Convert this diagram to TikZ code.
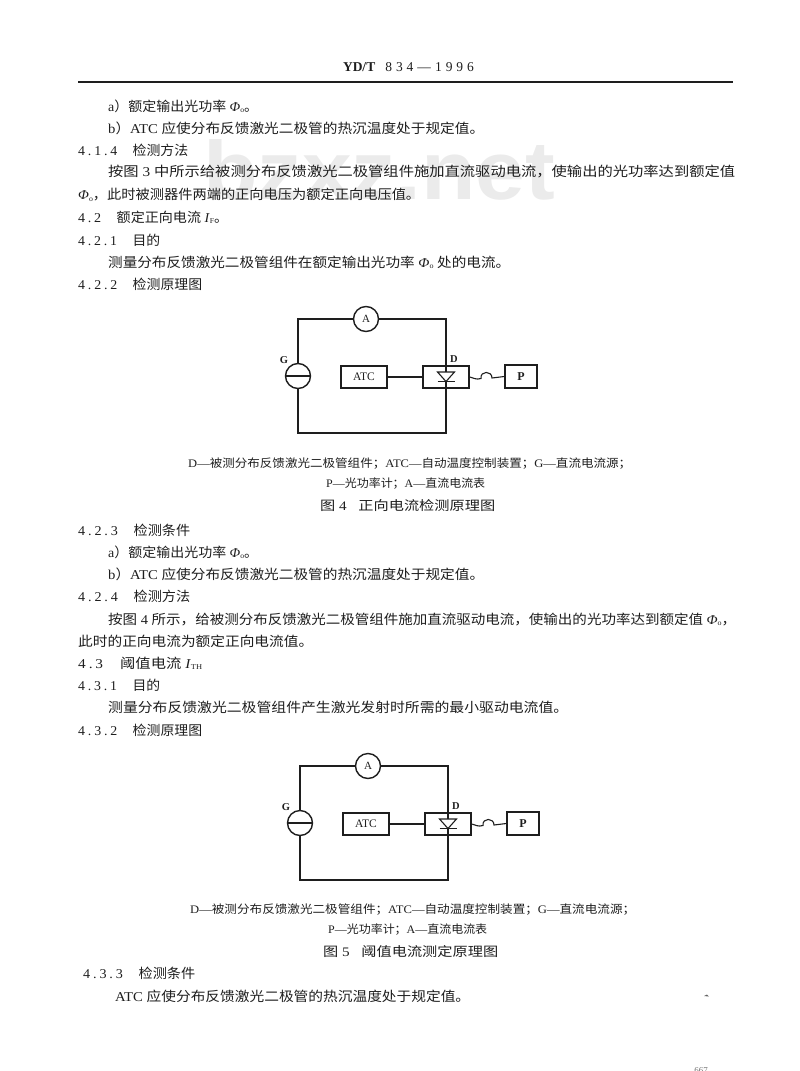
\documentclass[tikz,border=0pt]{standalone}
\usepackage{fontspec}
\usepackage{graphicx}
\setmainfont{Liberation Serif}
\newfontfamily\zhfont{Noto Sans CJK SC}
\newfontfamily\wmfont{Liberation Sans}
\newcommand{\zh}[1]{{\zhfont #1}}
\definecolor{ink}{HTML}{1E1E1E}
\newcommand{\Ph}{\textit{Φ}\raisebox{-0.2ex}{\scalebox{0.55}{o}}}
\newcommand{\snt}[3]{\makebox[38pt][s]{#1\hfill.\hfill#2\hfill.\hfill#3}\hspace{15pt}}
\newcommand{\snd}[2]{\makebox[22pt][s]{#1\hfill.\hfill#2}\hspace{15pt}}
\tikzset{
  txt/.style={anchor=west,inner sep=0pt,text=ink,font=\fontsize{13.5}{15}\selectfont},
  captxt/.style={anchor=west,inner sep=0pt,text=ink,font=\fontsize{11.5}{13}\selectfont},
  wire/.style={draw=ink,line width=1.4pt},
  thinw/.style={draw=ink,line width=1.1pt},
  box/.style={draw=ink,line width=1.4pt,rectangle,inner sep=0pt,text=ink,font=\fontsize{11.5}{13}\selectfont},
  meter/.style={draw=ink,line width=1.4pt,circle,minimum size=25pt,inner sep=0pt,text=ink,font=\fontsize{11}{13}\selectfont},
  lab/.style={inner sep=0pt,text=ink,font=\bfseries\fontsize{10.5}{12}\selectfont}
}
\newcommand{\tl}[5]{\node[txt] (#1) at (#2,#3) {\resizebox{#4pt}{\height}{#5}};}
\newcommand{\cl}[5]{\node[captxt] (#1) at (#2,#3) {\resizebox{#4pt}{\height}{#5}};}
% circuit, with prefix #1, shift #2,#3
\newcommand{\circuit}[3]{%
\begin{scope}[shift={(#2,#3)}]
  \node[meter] (#1A) at (366,319) {A};
  \node[meter] (#1G) at (298,376) {};
  \node[box,minimum width=46pt,minimum height=22pt] (#1ATC) at (364,377) {ATC};
  \node[box,minimum width=46pt,minimum height=22pt] (#1D) at (446,377) {};
  \node[box,minimum width=32pt,minimum height=23pt,font=\bfseries\fontsize{12}{14}\selectfont] (#1P) at (521,376.5) {P};
  \node[lab] (#1Dl) at (454,359) {D};
  \node[lab] (#1Gl) at (284,360) {G};
  \coordinate (#1tl) at (298,319);
  \coordinate (#1tr) at (446,319);
  \coordinate (#1bl) at (298,433);
  \coordinate (#1br) at (446,433);
  \coordinate (#1dtop) at (446,372);
  \coordinate (#1dbot) at (446,381.5);
  \coordinate (#1dl) at (437.5,372);
  \coordinate (#1dr) at (454.5,372);
  \coordinate (#1bl1) at (437.5,381.5);
  \coordinate (#1bl2) at (454.5,381.5);
  \draw[wire] (#1G.north) -- (#1tl) -- (#1A.west);
  \draw[wire] (#1A.east) -- (#1tr) -- (#1dtop);
  \draw[wire] (#1G.south) -- (#1bl) -- (#1br) -- (#1dbot);
  \draw[thinw] (#1G.west) -- (#1G.east);
  \draw[thinw] (#1ATC.east) -- (#1D.west);
  \draw[thinw] (#1dl) -- (#1dr) -- (#1dbot) -- cycle;
  \draw[wire] (#1bl1) -- (#1bl2);
  \draw[thinw] (#1D.east) .. controls (474,378) and (476,380) .. (481,378.5)
     .. controls (480,370.5) and (492,370.5) .. (492,378) -- (#1P.west);
\end{scope}}
\begin{document}
\begin{tikzpicture}[x=1pt,y=-1pt]
\useasboundingbox (0,0) rectangle (800,1071);
\node[inner sep=0pt,anchor=west,text=black!8] (wm) at (203,170)
  {\resizebox{352pt}{60pt}{\wmfont\bfseries bzxz.net}};
\node[inner sep=0pt,text=ink,font=\fontsize{13.5}{15}\selectfont] (hd) at (408.5,67)
  {\makebox[131pt][s]{\textbf{YD/T}\hspace{6pt}\hfill 8\hfill 3\hfill 4\hfill —\hfill 1\hfill 9\hfill 9\hfill 6}};
\coordinate (rl) at (78,82); \coordinate (rr) at (733,82);
\draw[draw=ink,line width=1.4pt] (rl) -- (rr);
\tl{a1}{108}{106}{150}{a\zh{）额定输出光功率} \Ph\zh{。}}
\tl{a2}{108}{128}{376}{b\zh{）}ATC \zh{应使分布反馈激光二极管的热沉温度处于规定值。}}
\tl{a3}{78}{150}{110}{\snt{4}{1}{4}\zh{检测方法}}
\tl{a4}{108}{172}{627}{\zh{按图} 3 \zh{中所示给被测分布反馈激光二极管组件施加直流驱动电流，使输出的光功率达到额定值}}
\tl{a5}{78}{195}{342}{\Ph\zh{，此时被测器件两端的正向电压为额定正向电压值。}}
\tl{a6}{78}{217}{150}{\snd{4}{2}\zh{额定正向电流} \textit{I}\raisebox{-0.2ex}{\scalebox{0.55}{F}}\zh{。}}
\tl{a7}{78}{240}{82}{\snt{4}{2}{1}\zh{目的}}
\tl{a8}{108}{262}{402}{\zh{测量分布反馈激光二极管组件在额定输出光功率} \Ph\ \zh{处的电流。}}
\tl{a9}{78}{284}{124}{\snt{4}{2}{2}\zh{检测原理图}}
\circuit{p}{0}{0}
\cl{c1}{188}{464}{443}{D—\zh{被测分布反馈激光二极管组件；}ATC—\zh{自动温度控制装置；}G—\zh{直流电流源；}}
\cl{c2}{326}{484}{159}{P—\zh{光功率计；}A—\zh{直流电流表}}
\node[txt,font=\fontsize{13}{14}\selectfont] (c3) at (320,506) {\resizebox{175pt}{\height}{\zh{图} 4\hspace{10pt}\zh{正向电流检测原理图}}};
\tl{b1}{78}{530}{112}{\snt{4}{2}{3}\zh{检测条件}}
\tl{b2}{108}{552}{150}{a\zh{）额定输出光功率} \Ph\zh{。}}
\tl{b3}{108}{574}{376}{b\zh{）}ATC \zh{应使分布反馈激光二极管的热沉温度处于规定值。}}
\tl{b4}{78}{596}{112}{\snt{4}{2}{4}\zh{检测方法}}
\tl{b5}{108}{619}{628}{\zh{按图} 4 \zh{所示，给被测分布反馈激光二极管组件施加直流驱动电流，使输出的光功率达到额定值} \Ph\zh{，}}
\tl{b6}{78}{641}{235}{\zh{此时的正向电流为额定正向电流值。}}
\tl{b7}{78}{663}{124}{\snd{4}{3}\zh{阈值电流} \textit{I}\raisebox{-0.2ex}{\scalebox{0.55}{TH}}}
\tl{b8}{78}{685}{82}{\snt{4}{3}{1}\zh{目的}}
\tl{b9}{108}{707}{460}{\zh{测量分布反馈激光二极管组件产生激光发射时所需的最小驱动电流值。}}
\tl{b10}{78}{730}{124}{\snt{4}{3}{2}\zh{检测原理图}}
\circuit{q}{2}{447}
\cl{d1}{190}{910}{445}{D—\zh{被测分布反馈激光二极管组件；}ATC—\zh{自动温度控制装置；}G—\zh{直流电流源；}}
\cl{d2}{328}{930}{159}{P—\zh{光功率计；}A—\zh{直流电流表}}
\node[txt,font=\fontsize{13}{14}\selectfont] (d3) at (323,952) {\resizebox{175pt}{\height}{\zh{图} 5\hspace{10pt}\zh{阈值电流测定原理图}}};
\tl{e1}{83}{973}{112}{\snt{4}{3}{3}\zh{检测条件}}
\tl{e2}{115}{996}{355}{ATC \zh{应使分布反馈激光二极管的热沉温度处于规定值。}}
\fill[ink!70] (704,996) -- (707,994.5) -- (709,996.5) -- cycle;
\begin{scope}
\clip (0,0) rectangle (800,1071);
\node[inner sep=0pt,text=black!55,font=\fontsize{9}{10}\selectfont] (pg) at (701,1071) {667};
\end{scope}
\end{tikzpicture}
\end{document}
